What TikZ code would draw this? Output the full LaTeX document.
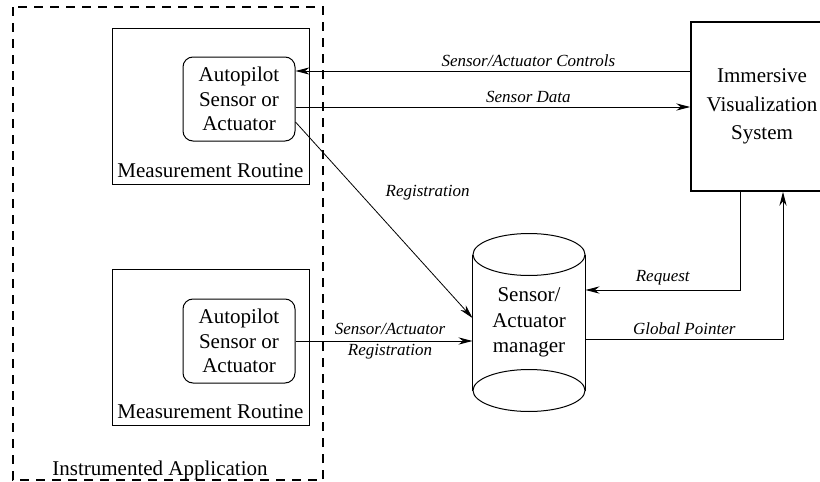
\documentclass[tikz,border=0pt]{standalone}
\usepackage{fontspec}
\setmainfont{LiberationSerif}[Extension=.ttf,UprightFont=*-Regular,
  ItalicFont=*-Italic,BoldFont=*-Bold,BoldItalicFont=*-BoldItalic]
\usetikzlibrary{arrows.meta}
\begin{document}
\begin{tikzpicture}[x=0.5pt,y=-0.5pt,line width=0.5pt,
    box/.style={draw,inner sep=0pt,minimum width=98.5pt,minimum height=78pt},
    inner/.style={draw,rounded corners=5pt,inner sep=0pt,align=center,
      minimum width=56pt,minimum height=42pt,font=\fontsize{10.5}{12.2}\selectfont},
    txt/.style={inner sep=0pt,anchor=base,font=\fontsize{10.5}{12.5}\selectfont},
    lbl/.style={font=\fontsize{8.5}{10.5}\selectfont\itshape,inner sep=2pt},
    arr/.style={-{Stealth[length=7pt,width=3.6pt]}}]
  \useasboundingbox (0,0) rectangle (820,482);
  % instrumented application
  \draw[line width=0.6pt,dash pattern=on 4.5pt off 3.5pt] (13,7) rectangle (323,480);
  \node[txt] (app) at (160,475) {Instrumented Application};
  % measurement routines
  \node[box] (mr1) at (210.5,106) {};
  \node[box] (mr2) at (210.5,347) {};
  \node[txt] (mr1txt) at ([yshift=3.5pt]mr1.south) {Measurement Routine};
  \node[txt] (mr2txt) at ([yshift=3.5pt]mr2.south) {Measurement Routine};
  \node[inner] (ap1) at (239,99) {Autopilot\\Sensor or\\Actuator};
  \node[inner] (ap2) at (239,341) {Autopilot\\Sensor or\\Actuator};
  % visualization system
  \node[draw,line width=0.8pt,inner sep=0pt,minimum width=71pt,minimum height=84.5pt,
    align=center,font=\fontsize{10.5}{14.2}\selectfont] (ivs) at (762,106.5)
    {Immersive\\Visualization\\System};
  % manager
  \node[inner sep=0pt,minimum width=56pt,minimum height=88.5pt,align=center,
    font=\fontsize{10.5}{12.7}\selectfont] (mgr) at (529,322.5) {Sensor/\\Actuator\\manager};
  \draw ([yshift=-10.5pt]mgr.north west) -- ([yshift=10.5pt]mgr.south west)
        ([yshift=-10.5pt]mgr.north east) -- ([yshift=10.5pt]mgr.south east);
  \draw ([yshift=-10.5pt]mgr.north) ellipse [x radius=28pt,y radius=10.5pt];
  \draw ([yshift=10.5pt]mgr.south) ellipse [x radius=28pt,y radius=10.5pt];
  % connectors
  \coordinate (ctl) at ([yshift=14pt]ap1.east);
  \coordinate (dat) at ([yshift=-4pt]ap1.east);
  \draw[arr] (ctl -| ivs.west) -- (ctl)
    node[lbl,pos=0.41,above] {Sensor/Actuator Controls};
  \draw[arr] (dat) -- (dat -| ivs.west)
    node[lbl,pos=0.59,above] {Sensor Data};
  \draw[arr,line width=0.4pt] ([yshift=-11.5pt]ap1.east) -- ([yshift=2.25pt]mgr.west)
    node[lbl,pos=0.36,right=11pt] {Registration};
  \draw[arr] (ap2.east) -- (ap2.east -| mgr.west)
    node[lbl,midway,xshift=3pt,align=center,font=\fontsize{8.5}{10.5}\selectfont\itshape]
    {Sensor/Actuator\\Registration};
  \draw[arr] ([xshift=-11pt]ivs.south) |- ([yshift=16.25pt]mgr.east)
    node[lbl,pos=0.75,above] {Request};
  \draw[arr] ([yshift=-8.25pt]mgr.east) -| ([xshift=10.5pt]ivs.south)
    node[lbl,pos=0.25,above] {Global Pointer};
\end{tikzpicture}
\end{document}
